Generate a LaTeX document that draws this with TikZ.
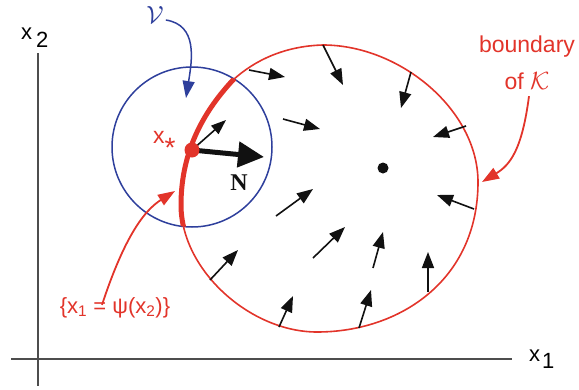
\documentclass[tikz,border=0pt]{standalone}
\usepackage{fontspec}
\newfontfamily\labfont{Liberation Sans}
\newfontfamily\serfont{Liberation Serif}
\usepackage{tikz}
\usetikzlibrary{arrows.meta}
\usepackage{xcolor}
\definecolor{redK}{HTML}{E2342A}
\definecolor{blueV}{HTML}{2E3F9C}
\definecolor{axisGray}{HTML}{4D4D4D}
\definecolor{fieldBlack}{HTML}{111111}
\newcommand\boundaryK{(181,205) .. controls (181,150) and (205,110) .. (233,80) .. controls (255,60) and (285,46) .. (323,45) .. controls (400,45) and (478,110) .. (478,182) .. controls (478,280) and (400,332) .. (317,332) .. controls (250,332) and (181,270) .. cycle}

\begin{document}
\begin{tikzpicture}[x=1pt, y=-1pt,
      axis/.style={axisGray, line width=1.4pt},
      field/.style={fieldBlack, line width=1.6pt, -{Triangle[length=16pt, width=12pt]}},
      lab/.style={font=\labfont\fontsize{22}{26}\selectfont, inner sep=0pt},
      pointer/.style={line width=1.8pt, -{Triangle[length=17pt, width=12pt]}}
    ]
      \useasboundingbox (0,0) rectangle (579,389);

      \coordinate (x1a) at (11,359);
      \coordinate (x1b) at (512,359);
      \coordinate (x2a) at (38,53);
      \coordinate (x2b) at (38,386);
      \draw[axis] (x1a) -- (x1b);
      \draw[axis] (x2a) -- (x2b);
      \node[lab, anchor=base west] (xtwo) at (21,39) {x\hspace{4pt}\raisebox{-8pt}{2}};
      \node[lab, anchor=base west] (xone) at (529,361) {x\hspace{2pt}\raisebox{-7pt}{1}};

      \node[draw=blueV, circle, line width=1.5pt, minimum size=160pt, inner sep=0pt] (nbhd) at (192,147) {};
      \draw[redK, line width=1.6pt] \boundaryK;
      \begin{scope}
        \clip (192,147) circle[radius=80];
        \draw[redK, line width=5pt] \boundaryK;
      \end{scope}

      \draw[field] (323,45) -- (343,85);
      \draw[field] (411,72) -- (401,108);
      \draw[field] (466,126) -- (433,137);
      \draw[field] (249,70) -- (285,77);
      \draw[field] (283,119) -- (320,129);
      \draw[field] (474,209) -- (437,195);
      \draw[field] (276,216) -- (313,189);
      \draw[field] (313,258) -- (345,227);
      \draw[field] (373,268) -- (383,232);
      \draw[field] (428,292) -- (428,252);
      \draw[field] (359,328) -- (371,290);
      \draw[field] (279,327) -- (293,296);
      \draw[field] (210,280) -- (238,250);

      \node[circle, fill=fieldBlack, minimum size=11pt, inner sep=0pt] (center) at (383,168) {};

      \coordinate (ntip) at (264,157);
      \coordinate (stip) at (226,120);
      \draw[fieldBlack, line width=5pt, -{Triangle[length=26pt, width=25pt]}] (192,150) -- (ntip);
      \draw[field, -{Triangle[length=15pt, width=11pt]}] (192,150) -- (stip);
      \node[circle, fill=redK, minimum size=15pt, inner sep=0pt] (xstar) at (192,150) {};
      \node[lab, text=redK, anchor=base west, font=\labfont\fontsize{23}{27}\selectfont] (xstarlab) at (153,143) {x\raisebox{-14pt}{\fontsize{28}{28}\selectfont *}};
      \node[font=\serfont\bfseries\fontsize{24}{24}\selectfont, text=fieldBlack] (nlab) at (239,183) {N};

      \node[text=blueV, font=\fontsize{24}{24}\selectfont, inner sep=0pt] (vlab) at (155,15) {$\mathcal{V}$};
      \coordinate (vtip) at (186,98);
      \draw[blueV, pointer, line width=1.5pt] ([xshift=2pt, yshift=-5pt]vlab.east) .. controls (198,25) and (192,60) .. (vtip);

      \node[lab, text=redK, align=center, font=\labfont\fontsize{23}{37}\selectfont] (blab) at (527,63) {boundary\\of $\mathcal{K}$};
      \coordinate (btip) at (482,182);
      \draw[redK, pointer] ([xshift=2pt, yshift=-6pt]blab.south) .. controls (522,150) and (510,165) .. (btip);

      \node[lab, text=redK, anchor=base] (plab) at (115,313) {\{x\textsubscript{1} = ψ(x\textsubscript{2})\}};
      \coordinate (ptip) at (175,191);
      \draw[redK, pointer] ([xshift=-13pt, yshift=-8pt]plab.north) .. controls (125,235) and (145,210) .. (ptip);
    \end{tikzpicture}
\end{document}
